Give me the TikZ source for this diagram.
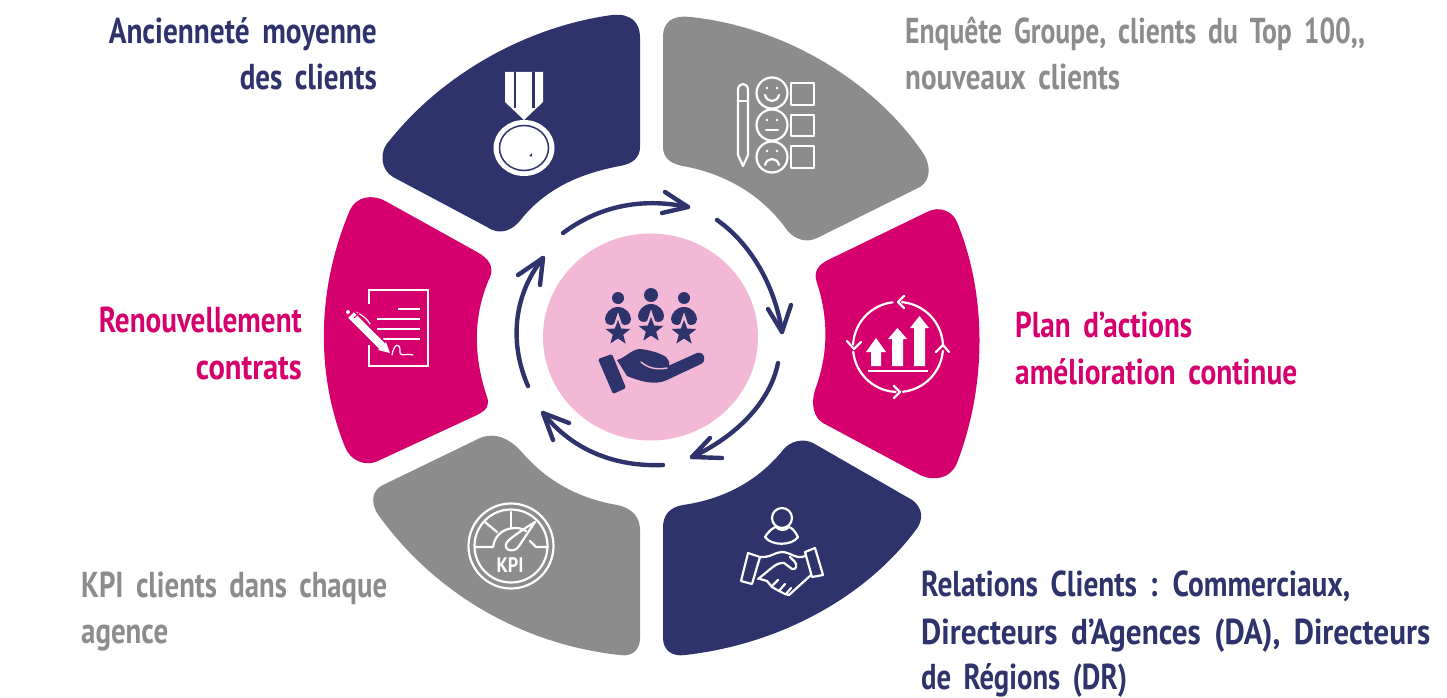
\documentclass[tikz,border=0pt]{standalone}
\usepackage{fontspec}
\usepackage{graphicx}
\newfontfamily\agfont[FakeStretch=0.7,WordSpace=1.7]{PT Sans Bold}
\definecolor{navy}{HTML}{2E336B}
\definecolor{magenta}{HTML}{D5006D}
\definecolor{midgray}{HTML}{8C8C8C}
\definecolor{softpink}{HTML}{F2B8D6}
\newcommand{\fitw}[2]{\resizebox{#1pt}{\height}{#2}}
\newcommand{\arcpx}[6][]{\draw[#1] plot[domain=#5:#6,samples=24,smooth] ({#2+#4*cos(\x)},{#3+#4*sin(\x)});}
\newcommand{\starpx}[3]{\fill[navy] plot[samples at={-90,-54,-18,18,54,90,126,162,198,234},variable=\a] ({#1+(mod(round((\a+90)/36),2)==0 ? #3 : 0.42*#3)*cos(\a)},{#2+(mod(round((\a+90)/36),2)==0 ? #3 : 0.42*#3)*sin(\a)}) -- cycle;}
\newcommand{\personpx}[3]{%
 \fill[navy] (#1,#2) circle[radius=#3];
 \fill[navy] (#1,#2+9) .. controls (#1+8,#2+9) and (#1+13,#2+16) .. (#1+13,#2+21) .. controls (#1+13,#2+27) and (#1+7,#2+28) .. (#1+4,#2+26) -- (#1,#2+14) -- (#1-4,#2+26) .. controls (#1-7,#2+28) and (#1-13,#2+27) .. (#1-13,#2+21) .. controls (#1-13,#2+16) and (#1-8,#2+9) .. (#1,#2+9) -- cycle;
 \fill[softpink] (#1-5,#2+31) -- (#1,#2+17) -- (#1+5,#2+31) -- cycle;
 \starpx{#1}{#2+35}{13}}
\tikzset{
 seg/.style={line join=round},
 lab/.style={font=\agfont\fontsize{36}{36}\selectfont,inner sep=0pt},
 labw/.style={lab,anchor=base west},
 labe/.style={lab,anchor=base east},
 cyc/.style={draw=navy,line width=4.4pt,line cap=round,line join=round},
 ico/.style={draw=white,line width=2.2pt,line cap=round,line join=round},
}
\begin{document}
\begin{tikzpicture}[x=1pt,y=-1pt]
\useasboundingbox (0,0) rectangle (1447,698);
\fill[white] (0,0) rectangle (1447,698);
% segments
\fill[navy,seg] (640,37) -- (640,147) .. controls (640,158) and (632,164) .. (620,166)
 .. controls (577,174) and (546,190) .. (523,217) .. controls (513,231) and (500,236) .. (487,227)
 -- (393,177) .. controls (381,170) and (378,152) .. (390,140)
 .. controls (442,75) and (525,27) .. (612,15) .. controls (630,13) and (640,22) .. (640,37) -- cycle;
\fill[midgray,seg] (663,37) -- (663,147) .. controls (663,158) and (671,164) .. (683,166)
 .. controls (726,174) and (762,195) .. (787,230) .. controls (795,240) and (807,243) .. (817,238)
 -- (920,187) .. controls (931,180) and (931,165) .. (923,153)
 .. controls (872,78) and (780,26) .. (690,17) .. controls (672,15) and (663,22) .. (663,37) -- cycle;
\fill[magenta,seg] (828,260) -- (927,212) .. controls (940,205) and (953,212) .. (957,222)
 .. controls (987,295) and (987,385) .. (957,463) .. controls (951,478) and (935,482) .. (920,475)
 -- (823,423) .. controls (813,417) and (811,403) .. (815,390)
 .. controls (828,355) and (829,320) .. (817,283) .. controls (813,272) and (818,265) .. (828,260) -- cycle;
\fill[navy,seg] (663,527) -- (663,638) .. controls (663,650) and (672,657) .. (685,655)
 .. controls (775,645) and (865,600) .. (918,527) .. controls (925,515) and (920,503) .. (907,497)
 -- (813,443) .. controls (803,438) and (790,441) .. (783,450)
 .. controls (758,481) and (724,499) .. (683,505) .. controls (670,507) and (663,515) .. (663,527) -- cycle;
\fill[midgray,seg] (640,530) -- (640,638) .. controls (640,650) and (632,657) .. (620,655)
 .. controls (525,645) and (435,595) .. (377,513) .. controls (370,500) and (373,490) .. (383,485)
 -- (480,438) .. controls (495,432) and (508,438) .. (520,450)
 .. controls (545,480) and (577,498) .. (617,505) .. controls (632,508) and (640,517) .. (640,530) -- cycle;
\fill[magenta,seg] (387,202) -- (477,252) .. controls (490,259) and (494,268) .. (490,277)
 .. controls (473,315) and (473,355) .. (487,397) .. controls (490,405) and (487,410) .. (477,415)
 -- (380,460) .. controls (365,468) and (350,460) .. (345,447)
 .. controls (316,375) and (316,290) .. (350,210) .. controls (356,197) and (372,193) .. (387,202) -- cycle;
% centre
\fill[softpink] (650.5,337) circle[x radius=107.5,y radius=103.5];
% cycle arrows
\coordinate (a1s) at (563,233); \coordinate (a1e) at (688,207);
\coordinate (a2s) at (717,220); \coordinate (a2e) at (782,332);
\coordinate (a3s) at (778,363); \coordinate (a3e) at (692,457);
\coordinate (a4s) at (663,465); \coordinate (a4e) at (543,413);
\coordinate (a5s) at (528,386); \coordinate (a5e) at (543,258);
\draw[cyc] (a1s) .. controls (598,207) and (640,197) .. (a1e);
\draw[cyc] (665,192) -- (a1e) -- (662,213);
\draw[cyc] (a2s) .. controls (750,243) and (775,285) .. (a2e);
\draw[cyc] (768,309) -- (a2e) -- (791,305);
\draw[cyc] (a3s) .. controls (770,403) and (735,437) .. (a3e);
\draw[cyc] (710,438) -- (a3e) -- (722,458);
\draw[cyc] (a4s) .. controls (615,467) and (572,450) .. (a4e);
\draw[cyc] (569,423) -- (a4e) -- (553,440);
\draw[cyc] (a5s) .. controls (510,345) and (512,297) .. (a5e);
\draw[cyc] (518,275) -- (a5e) -- (540,285);
% central icon
\personpx{618}{298}{6}
\personpx{651}{295}{7}
\personpx{684}{298}{6}
\fill[navy,rounded corners=1.5pt] (598,359) -- (612,354) -- (626,388) -- (613,394) -- cycle;
\fill[navy,line join=round] (617,360) .. controls (625,358) and (632,349) .. (640,349)
 .. controls (650,350) and (660,353) .. (666,357) .. controls (670,361) and (670,366) .. (668,366)
 -- (697,353) .. controls (705,351) and (707,361) .. (701,364)
 -- (667,380) .. controls (654,386) and (640,381) .. (627,376) -- cycle;
\draw[softpink,line width=1.4pt,line cap=round] (641,362) .. controls (648,368) and (656,370) .. (667,368);
% medal
\fill[white] (505,72) -- (543,72) -- (543,102) -- (524,120) -- (505,102) -- cycle;
\fill[navy] (513.5,72) rectangle (516,108);
\fill[navy] (532,72) rectangle (534.5,108);
\fill[white] (524,148) circle[x radius=30.5,y radius=28];
\draw[navy,line width=1.5pt] (524,148) circle[x radius=24.5,y radius=22.5];
\fill[navy] (529,156) -- (532,153) -- (532,156.5) -- cycle;
% survey icon
\draw[ico] (738,90) .. controls (738,82) and (748,82) .. (748,90) -- (748,155) -- (743,166) -- (738,155) -- cycle;
\draw[ico] (738,101) -- (748,101);
\foreach \cy in {93,125,157}{\draw[ico] (772,\cy) circle[radius=15.5];}
\draw[ico] (791,83) rectangle (814,105);
\draw[ico] (791,115) rectangle (814,136);
\draw[ico] (791,146) rectangle (814,168);
\fill[white] (767,88) circle[radius=1.4] (777,88) circle[radius=1.4] (767,120) circle[radius=1.4] (777,120) circle[radius=1.4] (767,151) circle[radius=1.4] (777,151) circle[radius=1.4];
\draw[ico] (765,95) .. controls (767,103) and (777,103) .. (779,95);
\draw[ico] (766,130) -- (778,130);
\draw[ico] (765,165) .. controls (767,157) and (777,157) .. (779,165);
% improvement icon
\arcpx[ico]{898}{347}{45}{-3}{-85}
\arcpx[ico]{898}{347}{45}{-97}{-177}
\arcpx[ico]{898}{347}{45}{174}{93}
\arcpx[ico]{898}{347}{45}{84}{5}
\draw[ico] (904,296) -- (898,302) -- (904,308);
\draw[ico] (847,341) -- (854,349) -- (861,342);
\draw[ico] (894,386) -- (900,392) -- (894,398);
\draw[ico] (936,352) -- (943,345) -- (949,352);
\fill[white] (871,366) -- (871,352) -- (866,352) -- (876,338) -- (886,352) -- (881,352) -- (881,366) -- cycle;
\fill[white] (892,366) -- (892,339) -- (888,339) -- (897.5,328) -- (907,339) -- (903,339) -- (903,366) -- cycle;
\fill[white] (914,366) -- (914,328) -- (910,328) -- (919.5,316) -- (929,328) -- (925,328) -- (925,366) -- cycle;
\draw[white,line width=2pt] (868,371) -- (928,371);
% handshake icon
\draw[ico] (782,518) circle[radius=10];
\draw[ico] (765,537) .. controls (770,529) and (775,527) .. (776,527) .. controls (780,531) and (785,531) .. (789,527) .. controls (792,528) and (795,531) .. (798,537) .. controls (792,546) and (771,546) .. (765,537) -- cycle;
\draw[ico] (748,553) -- (760,557) -- (752,584) -- (741,581) -- cycle;
\draw[ico] (805,552) -- (815,548) -- (823,575) -- (812,577) -- cycle;
\draw[ico] (760,557) .. controls (770,558) and (775,552) .. (782,552) .. controls (790,552) and (797,560) .. (805,556);
\draw[ico] (760,579) -- (767,581) -- (772,587) -- (779,591) -- (785,594) -- (789,595) -- (811,575);
\draw[ico] (758,579) .. controls (770,570) and (776,562) .. (784,563) -- (792,569) .. controls (797,570) and (797,565) .. (795,562) -- (790,557);
\draw[ico] (772,586) -- (778,580) (779,591) -- (785,584) (786,594) -- (791,588);
% KPI icon
\draw[ico] (511,546) circle[radius=42.5];
\draw[ico] (511,546) circle[radius=36.5];
\draw[ico] (475,547) -- (493,547) .. controls (495,533) and (506,528) .. (515,528) .. controls (520,528) and (523,529) .. (526,531);
\draw[ico] (530,541) -- (536,547) -- (548,547);
\draw[ico] (511,512) -- (511,527);
\draw[ico] (485,522) -- (497,532);
\draw[ico] (535,522) -- (519,546) .. controls (515,553) and (504,551) .. (506,544) .. controls (507,540) and (522,530) .. (535,522) -- cycle;
\node[font=\agfont\fontsize{21}{21}\selectfont,text=white,inner sep=0pt] (kpi) at (510,565) {\fitw{27}{KPI}};
% contract icon
\draw[white,line width=2pt] (369,304) -- (369,290) -- (428,290) -- (428,366) -- (369,366) -- (369,345);
\draw[white,line width=2.2pt] (398,309) -- (420,309) (377,319) -- (420,319) (377,329) -- (420,329) (383,339) -- (420,339);
\draw[white,line width=1.2pt,line cap=round] (355,312) .. controls (362,314) and (368,320) .. (370,324);
\draw[magenta,line width=11pt,line cap=butt] (347,311) -- (385,349);
\draw[white,line width=8pt,line cap=butt] (351,315) -- (382,346);
\fill[white] (378,350) -- (386,342) -- (390,353) -- cycle;
\draw[magenta,line width=1pt] (354,318) -- (359,313);
\fill[white] (348,312) circle[radius=2];
\draw[white,line width=1.2pt,line cap=round] (392,355) .. controls (394,343) and (400,343) .. (400,350) .. controls (399,358) and (405,353) .. (413,355);
% labels
\node[labe,text=navy] (t1a) at (377,44) {\fitw{268}{Ancienneté moyenne}};
\node[labe,text=navy] (t1b) at (377,90) {\fitw{137}{des clients}};
\node[labw,text=midgray] (t2a) at (905,44) {\fitw{460}{Enquête Groupe, clients du Top 100,,}};
\node[labw,text=midgray] (t2b) at (905,90) {\fitw{215}{nouveaux clients}};
\node[labw,text=magenta] (t3a) at (1015,337) {\fitw{177}{Plan d’actions}};
\node[labw,text=magenta] (t3b) at (1015,384) {\fitw{282}{amélioration continue}};
\node[labw,text=navy] (t4a) at (921,596) {\fitw{429}{Relations Clients : Commerciaux,}};
\node[labw,text=navy] (t4b) at (921,644) {\fitw{509}{Directeurs d’Agences (DA), Directeurs}};
\node[labw,text=navy] (t4c) at (921,689) {\fitw{206}{de Régions (DR)}};
\node[labw,text=midgray] (t5a) at (81,597) {\fitw{306}{KPI clients dans chaque}};
\node[labw,text=midgray] (t5b) at (81,643) {\fitw{87}{agence}};
\node[labe,text=magenta] (t6a) at (302,332) {\fitw{203}{Renouvellement}};
\node[labe,text=magenta] (t6b) at (302,379) {\fitw{106}{contrats}};
\end{tikzpicture}
\end{document}
